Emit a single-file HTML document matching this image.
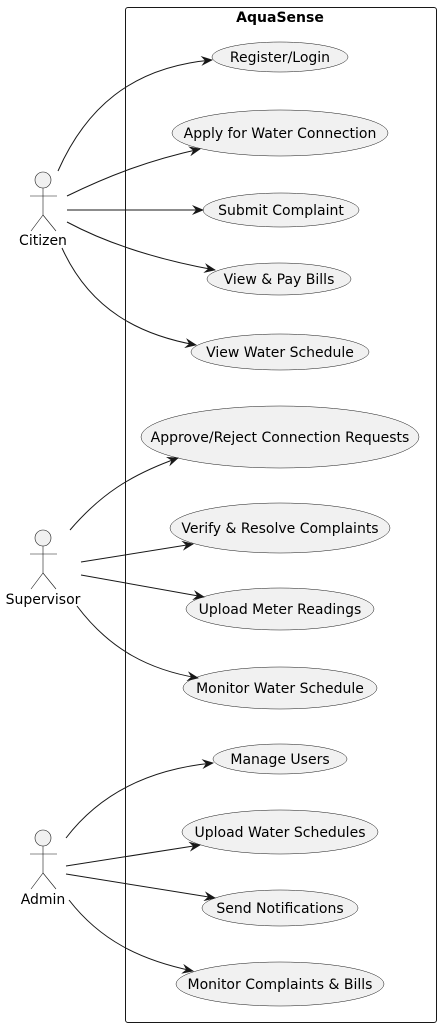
<!DOCTYPE html>
<html><head><meta charset="utf-8"><style>html,body{margin:0;padding:0;background:#fff}svg{display:block}</style></head>
<body>
<svg width="441" height="1028" viewBox="0 0 441 1028" xmlns="http://www.w3.org/2000/svg" font-family="DejaVu Sans, sans-serif">
<defs>
<marker id="a" viewBox="0 0 12 10" refX="11" refY="5" markerWidth="12" markerHeight="10" markerUnits="userSpaceOnUse" orient="auto">
<path d="M0,0 L12,5 L0,10 L4,5 Z" fill="#181818"/>
</marker>
<g id="actor" fill="none" stroke="#181818" stroke-width="0.6">
<circle cx="0" cy="0" r="8" fill="#f1f1f1"/>
<line x1="0" y1="8" x2="0" y2="35"/>
<line x1="-13" y1="16" x2="14" y2="16"/>
<line x1="0" y1="35" x2="-12" y2="51"/>
<line x1="0" y1="35" x2="13" y2="51"/>
</g>
</defs>
<rect x="125.5" y="7.5" width="311" height="1015" rx="2.5" fill="none" stroke="#181818" stroke-width="1"/>
<text x="280" y="22" text-anchor="middle" font-size="14" font-weight="bold" fill="#000">AquaSense</text>

<use href="#actor" x="43" y="180"/>
<text x="43" y="245" text-anchor="middle" font-size="14">Citizen</text>
<use href="#actor" x="43" y="538"/>
<text x="43" y="604" text-anchor="middle" font-size="14">Supervisor</text>
<use href="#actor" x="43" y="838"/>
<text x="43" y="904" text-anchor="middle" font-size="14">Admin</text>

<g fill="#f1f1f1" stroke="#181818" stroke-width="0.5">
<ellipse cx="280" cy="57" rx="68" ry="15"/>
<ellipse cx="280" cy="133" rx="108" ry="23"/>
<ellipse cx="281" cy="210" rx="78" ry="17"/>
<ellipse cx="279" cy="279" rx="72" ry="16"/>
<ellipse cx="280" cy="352" rx="89" ry="18"/>
<ellipse cx="280" cy="437" rx="139" ry="31"/>
<ellipse cx="280" cy="528" rx="110" ry="25"/>
<ellipse cx="280" cy="609" rx="94" ry="21"/>
<ellipse cx="280" cy="688" rx="97" ry="21"/>
<ellipse cx="280" cy="759" rx="67" ry="15"/>
<ellipse cx="280" cy="832" rx="98" ry="22"/>
<ellipse cx="280" cy="908" rx="78" ry="18"/>
<ellipse cx="280" cy="984" rx="104" ry="22"/>
</g>
<g font-size="14" text-anchor="middle" fill="#000">
<text x="280" y="62">Register/Login</text>
<text x="280" y="138">Apply for Water Connection</text>
<text x="281" y="215">Submit Complaint</text>
<text x="279" y="284">View &amp; Pay Bills</text>
<text x="280" y="357">View Water Schedule</text>
<text x="280" y="442">Approve/Reject Connection Requests</text>
<text x="280" y="533">Verify &amp; Resolve Complaints</text>
<text x="280" y="614">Upload Meter Readings</text>
<text x="280" y="693">Monitor Water Schedule</text>
<text x="280" y="764">Manage Users</text>
<text x="280" y="837">Upload Water Schedules</text>
<text x="280" y="913">Send Notifications</text>
<text x="280" y="989">Monitor Complaints &amp; Bills</text>
</g>
<g fill="none" stroke="#181818" stroke-width="1" marker-end="url(#a)">
<path d="M58,171 C85,110 130,67 212,60"/>
<path d="M67,196 C110,175 150,160 200,149"/>
<path d="M67,210 L203,210"/>
<path d="M67,222 C110,245 160,260 215,270"/>
<path d="M62,248 C90,310 140,335 196,345"/>
<path d="M70,530 C100,495 130,475 178,458"/>
<path d="M81,562 L193,544"/>
<path d="M81,575 L204,597"/>
<path d="M77,606 C110,650 150,670 198,678"/>
<path d="M66,838 C95,800 140,770 213,763"/>
<path d="M66,866 L200,845"/>
<path d="M66,874 L215,898"/>
<path d="M69,900 C100,940 140,960 193,971"/>
</g>
</svg>
</body></html>
